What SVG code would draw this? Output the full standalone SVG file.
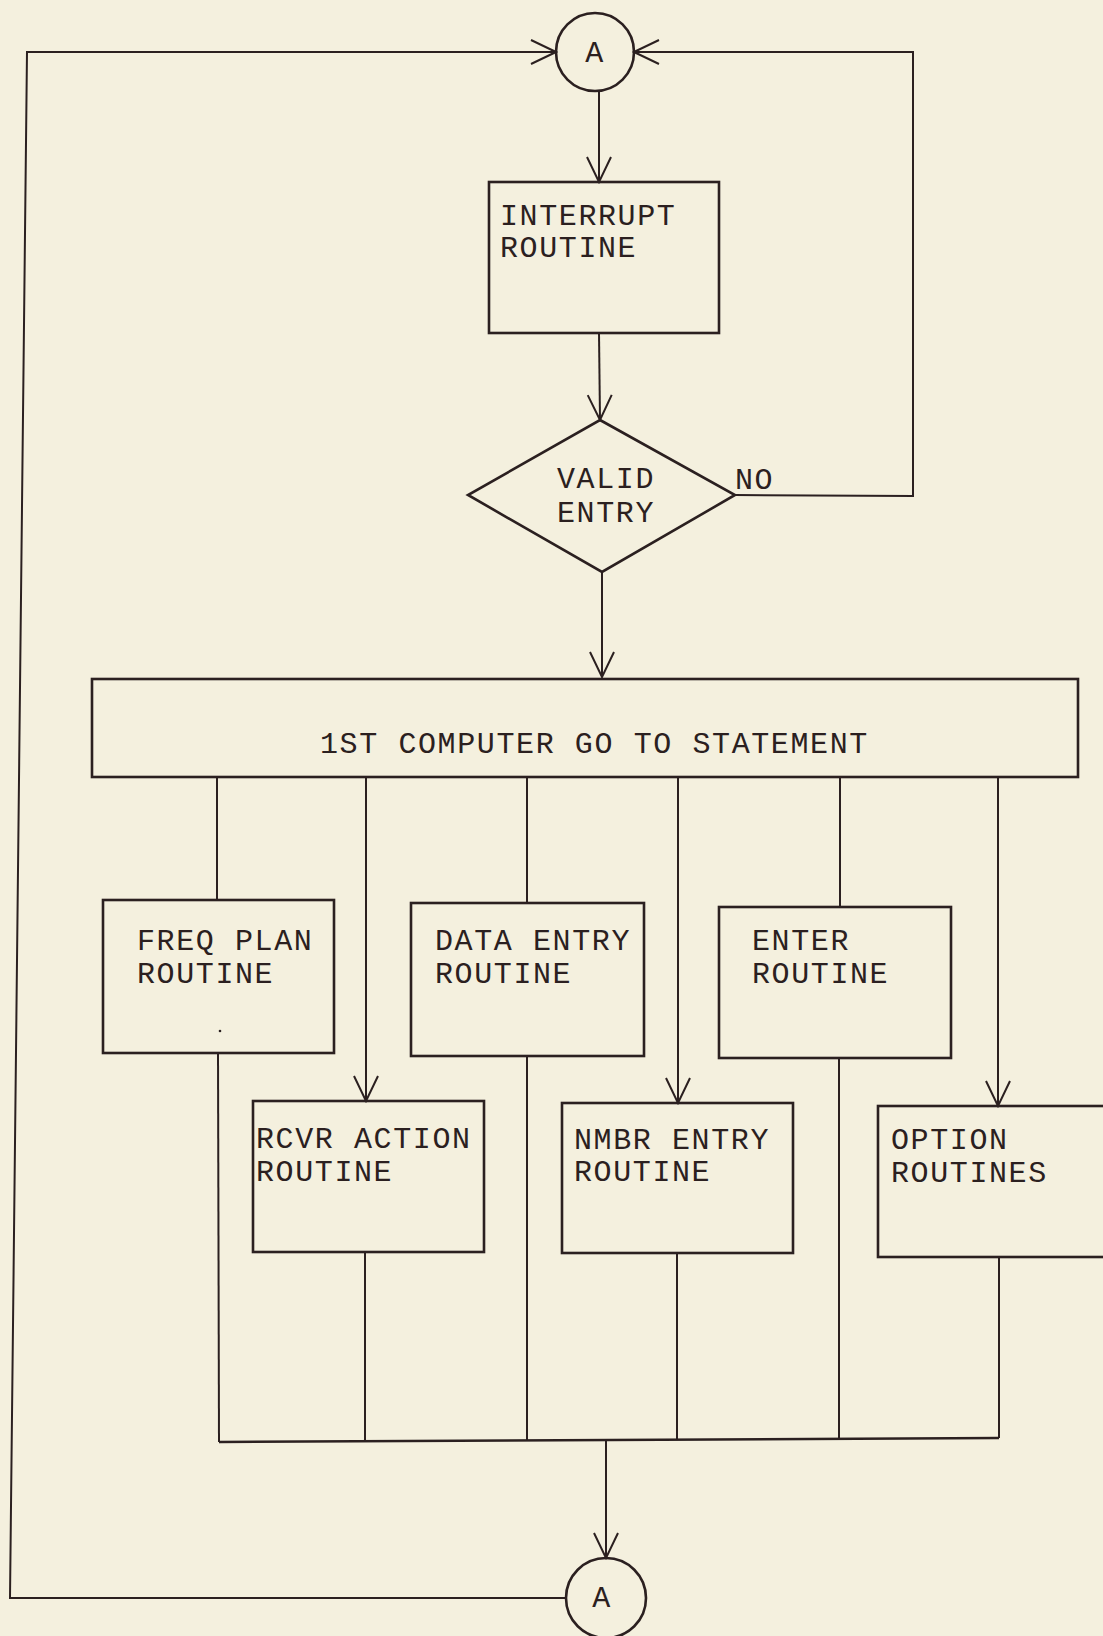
<svg xmlns="http://www.w3.org/2000/svg" width="1103" height="1636" viewBox="0 0 1103 1636">
  <defs>
    <style>
      .bg { fill: #f4f0de; }
      .box { fill: none; stroke: #2b2020; stroke-width: 2.6; }
      .conn { fill: none; stroke: #2b2020; stroke-width: 2; }
      .lbl { font-family: "Liberation Mono", "DejaVu Sans Mono", monospace; font-size: 30px; letter-spacing: 1.6px; fill: #2b2020; }
    </style>
    <marker id="arrow" markerUnits="userSpaceOnUse" markerWidth="30" markerHeight="30" viewBox="-28 -15 30 30" refX="0" refY="0" orient="auto">
      <path d="M -25 -12 L 0 0 L -25 12" fill="none" stroke="#2b2020" stroke-width="2"/>
    </marker>
  </defs>

  <rect class="bg" x="0" y="0" width="1103" height="1636"/>

  <!-- connectors -->
  <g id="connectors">
    <!-- return loop from the lower connector A back to the upper one -->
    <path class="conn" d="M 566 1598 L 10 1598 L 27 52 L 556 52" marker-end="url(#arrow)"/>
    <!-- NO branch back to A -->
    <path class="conn" d="M 735 495 L 913 496 L 913 52 L 634 52" marker-end="url(#arrow)"/>
    <path class="conn" d="M 599 92 L 599 182" marker-end="url(#arrow)"/>
    <path class="conn" d="M 599 333 L 600 420" marker-end="url(#arrow)"/>
    <path class="conn" d="M 602 572 L 602 677" marker-end="url(#arrow)"/>
    <!-- branches out of the GO TO statement -->
    <path class="conn" d="M 217 777 L 217 900"/>
    <path class="conn" d="M 366 777 L 366 1101" marker-end="url(#arrow)"/>
    <path class="conn" d="M 527 777 L 527 903"/>
    <path class="conn" d="M 678 777 L 678 1103" marker-end="url(#arrow)"/>
    <path class="conn" d="M 840 777 L 840 907"/>
    <path class="conn" d="M 998 777 L 998 1106" marker-end="url(#arrow)"/>
    <!-- routine exits into the collector -->
    <path class="conn" d="M 218 1053 L 219 1442"/>
    <path class="conn" d="M 365 1252 L 365 1441"/>
    <path class="conn" d="M 527 1056 L 527 1440"/>
    <path class="conn" d="M 677 1253 L 677 1440"/>
    <path class="conn" d="M 839 1058 L 839 1439"/>
    <path class="conn" d="M 999 1257 L 999 1438"/>
    <path class="box" d="M 219 1442 L 999 1438"/>
    <path class="conn" d="M 606 1440 L 606 1558" marker-end="url(#arrow)"/>
  </g>

  <!-- nodes -->
  <g id="connector-a-top">
    <circle class="box" cx="595" cy="52" r="39"/>
    <text class="lbl" x="595" y="62" text-anchor="middle" font-size="26">A</text>
  </g>

  <g id="interrupt-routine">
    <rect class="box" x="489" y="182" width="230" height="151"/>
    <text class="lbl" x="500" y="225">INTERRUPT</text>
    <text class="lbl" x="500" y="257">ROUTINE</text>
  </g>

  <g id="valid-entry">
    <polygon class="box" points="600,420 735,495 602,572 468,495"/>
    <text class="lbl" x="557" y="488">VALID</text>
    <text class="lbl" x="557" y="522">ENTRY</text>
    <text class="lbl" x="735" y="489">NO</text>
  </g>

  <g id="goto-statement">
    <rect class="box" x="92" y="679" width="986" height="98"/>
    <text class="lbl" x="320" y="753">1ST COMPUTER GO TO STATEMENT</text>
  </g>

  <g id="freq-plan-routine">
    <rect class="box" x="103" y="900" width="231" height="153"/>
    <text class="lbl" x="137" y="950">FREQ PLAN</text>
    <text class="lbl" x="137" y="983">ROUTINE</text>
    <circle cx="220" cy="1031" r="1.3" fill="#2b2020"/>
  </g>

  <g id="data-entry-routine">
    <rect class="box" x="411" y="903" width="233" height="153"/>
    <text class="lbl" x="435" y="950">DATA ENTRY</text>
    <text class="lbl" x="435" y="983">ROUTINE</text>
  </g>

  <g id="enter-routine">
    <rect class="box" x="719" y="907" width="232" height="151"/>
    <text class="lbl" x="752" y="950">ENTER</text>
    <text class="lbl" x="752" y="983">ROUTINE</text>
  </g>

  <g id="rcvr-action-routine">
    <rect class="box" x="253" y="1101" width="231" height="151"/>
    <text class="lbl" x="256" y="1148">RCVR ACTION</text>
    <text class="lbl" x="256" y="1181">ROUTINE</text>
  </g>

  <g id="nmbr-entry-routine">
    <rect class="box" x="562" y="1103" width="231" height="150"/>
    <text class="lbl" x="574" y="1149">NMBR ENTRY</text>
    <text class="lbl" x="574" y="1181">ROUTINE</text>
  </g>

  <g id="option-routines">
    <rect class="box" x="878" y="1106" width="240" height="151"/>
    <text class="lbl" x="891" y="1149">OPTION</text>
    <text class="lbl" x="891" y="1182">ROUTINES</text>
  </g>

  <g id="connector-a-bottom">
    <circle class="box" cx="606" cy="1598" r="40"/>
    <text class="lbl" x="602" y="1607" text-anchor="middle" font-size="26">A</text>
  </g>
</svg>
